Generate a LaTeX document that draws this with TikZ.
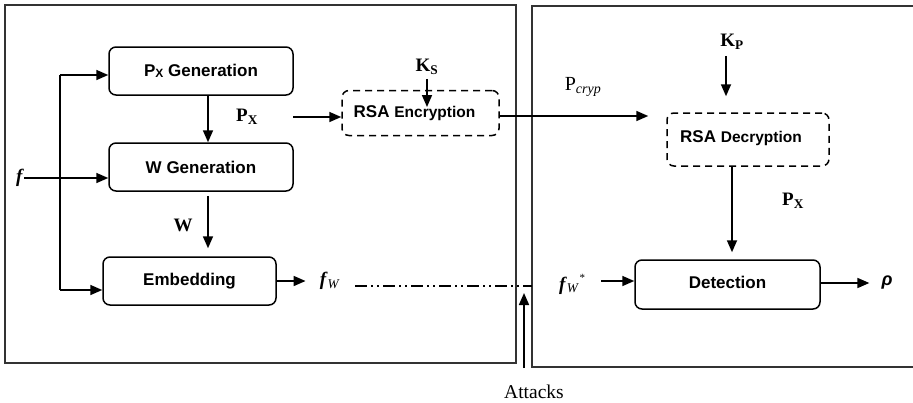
\documentclass[tikz,border=0pt]{standalone}
\usepackage{fontspec}
\setmainfont{Liberation Serif}
\setsansfont{Liberation Sans}
\usetikzlibrary{arrows.meta}
\newcommand{\blk}[1]{\fontsize{#1}{#1}\selectfont}

\begin{document}
\begin{tikzpicture}[
  x=1pt,y=-1pt,
  every node/.style={inner sep=0pt},
  block/.style={draw,rounded corners=7pt,line width=1.5pt,minimum height=48pt,
    font=\sffamily\bfseries\blk{17}},
  cryptbox/.style={block,dashed,dash pattern=on 7pt off 5pt},
  frame/.style={line width=1.7pt,draw=black!80},
  link/.style={-{Triangle[length=12pt,width=10pt]},line width=1.7pt},
  lbl/.style={font=\bfseries\blk{19}},
]
\useasboundingbox (0,0) rectangle (913,402);
% frames
\draw[frame] (5,5) rectangle (516,363);
\draw[frame] (913,6) -| (532,367) -- (913,367);
% blocks
\node[block,minimum width=184pt] (pxgen) at (201,71) {P\raisebox{-1pt}{\blk{12}X} Generation};
\node[block,minimum width=184pt] (wgen) at (201,167) {W Generation};
\node[block,minimum width=173pt] (embed) at (189.5,281) {\raisebox{4pt}{Embedding}};
\node[cryptbox,minimum width=157pt,minimum height=45pt] (enc) at (420.5,113)
  {\hspace*{-12pt}RSA {\blk{15.5}Encryption}};
\node[cryptbox,minimum width=162pt,minimum height=53pt] (dec) at (748,139.5)
  {\raisebox{6pt}{\hspace*{-14pt}RSA {\blk{15.5}Decryption}}};
\node[block,minimum width=185pt,minimum height=49pt] (det) at (727.5,284.5) {\raisebox{4pt}{Detection}};
% labels
\node[lbl] (f) at (20,178) {\textit{f}};
\node[lbl] (pxlbl) at (247,117) {P\textsubscript{X}};
\node[lbl] (ks) at (427,67) {K\textsubscript{S}};
\node[lbl] (wlbl) at (183,225) {W};
\node[lbl] (kp) at (732,42) {K\textsubscript{P}};
\node[lbl] (pxlbl2) at (793,201) {P\textsubscript{X}};
\node[font=\blk{20}] (pcryp) at (583,87) {P\textsubscript{\textit{cryp}}};
\node[lbl] (fw) at (330,281) {\textit{f}\textsubscript{\mdseries\textit{W}}};
\node[lbl] (fwstar) at (572,284) {\textit{f}\textsubscript{\mdseries\textit{W}}\raisebox{9pt}{\mdseries\blk{11}*}};
\node[font=\sffamily\bfseries\itshape\blk{18}] (rho) at (887,283) {ρ};
\node[font=\blk{19.5}] (attacks) at (534,392) {Attacks};
% coordinates
\coordinate (feedtop) at (60,75);
\coordinate (feedbot) at (60,290);
\coordinate (pxstart) at (293,117);
\coordinate (wire) at (355,286);
\coordinate (hit) at (524,293);
\coordinate (hitfoot) at (524,368);
% connectors
\draw[line width=1.5pt] (feedtop) -- (feedbot);
\draw[link] (feedtop) -- (feedtop -| pxgen.west);
\draw[link] (feedbot) -- (feedbot -| embed.west);
\draw[link] (f.east) -- (f -| wgen.west);
\draw[link] ([xshift=7pt]pxgen.south) -- ([xshift=7pt]pxgen.south |- wgen.north);
\draw[link,shorten <=4pt,shorten >=8pt] ([xshift=7pt]wgen.south) -- ([xshift=7pt]wgen.south |- embed.north);
\draw[link] (pxstart) -- (pxstart -| enc.west);
\draw[link,shorten <=4pt,shorten >=6pt] (ks.south) -- (ks |- enc.center);
\draw[link,shorten >=18pt] ([yshift=-3pt]enc.east) -- ([yshift=-3pt]enc.east -| dec.west);
\draw[link,shorten <=6pt,shorten >=16pt] ([xshift=-6pt]kp.south) -- ([xshift=-6pt]kp.south |- dec.north);
\draw[link,shorten >=7pt] ([xshift=-16pt]dec.south) -- ([xshift=-16pt]dec.south |- det.north);
\draw[link] (embed.east |- fw) -- ([xshift=-14pt]fw.west);
\draw[line width=1.5pt,dash pattern=on 12pt off 4pt on 2pt off 4pt on 2pt off 4pt]
  (wire) -- (wire -| 532,0);
\draw[link,shorten <=16pt] ([yshift=3pt]fwstar.east) -- ([yshift=3pt]fwstar.east -| det.west);
\draw[link,shorten >=12pt] (det.east |- rho) -- (rho.west);
\draw[link] (hitfoot) -- (hit);
\end{tikzpicture}
\end{document}
